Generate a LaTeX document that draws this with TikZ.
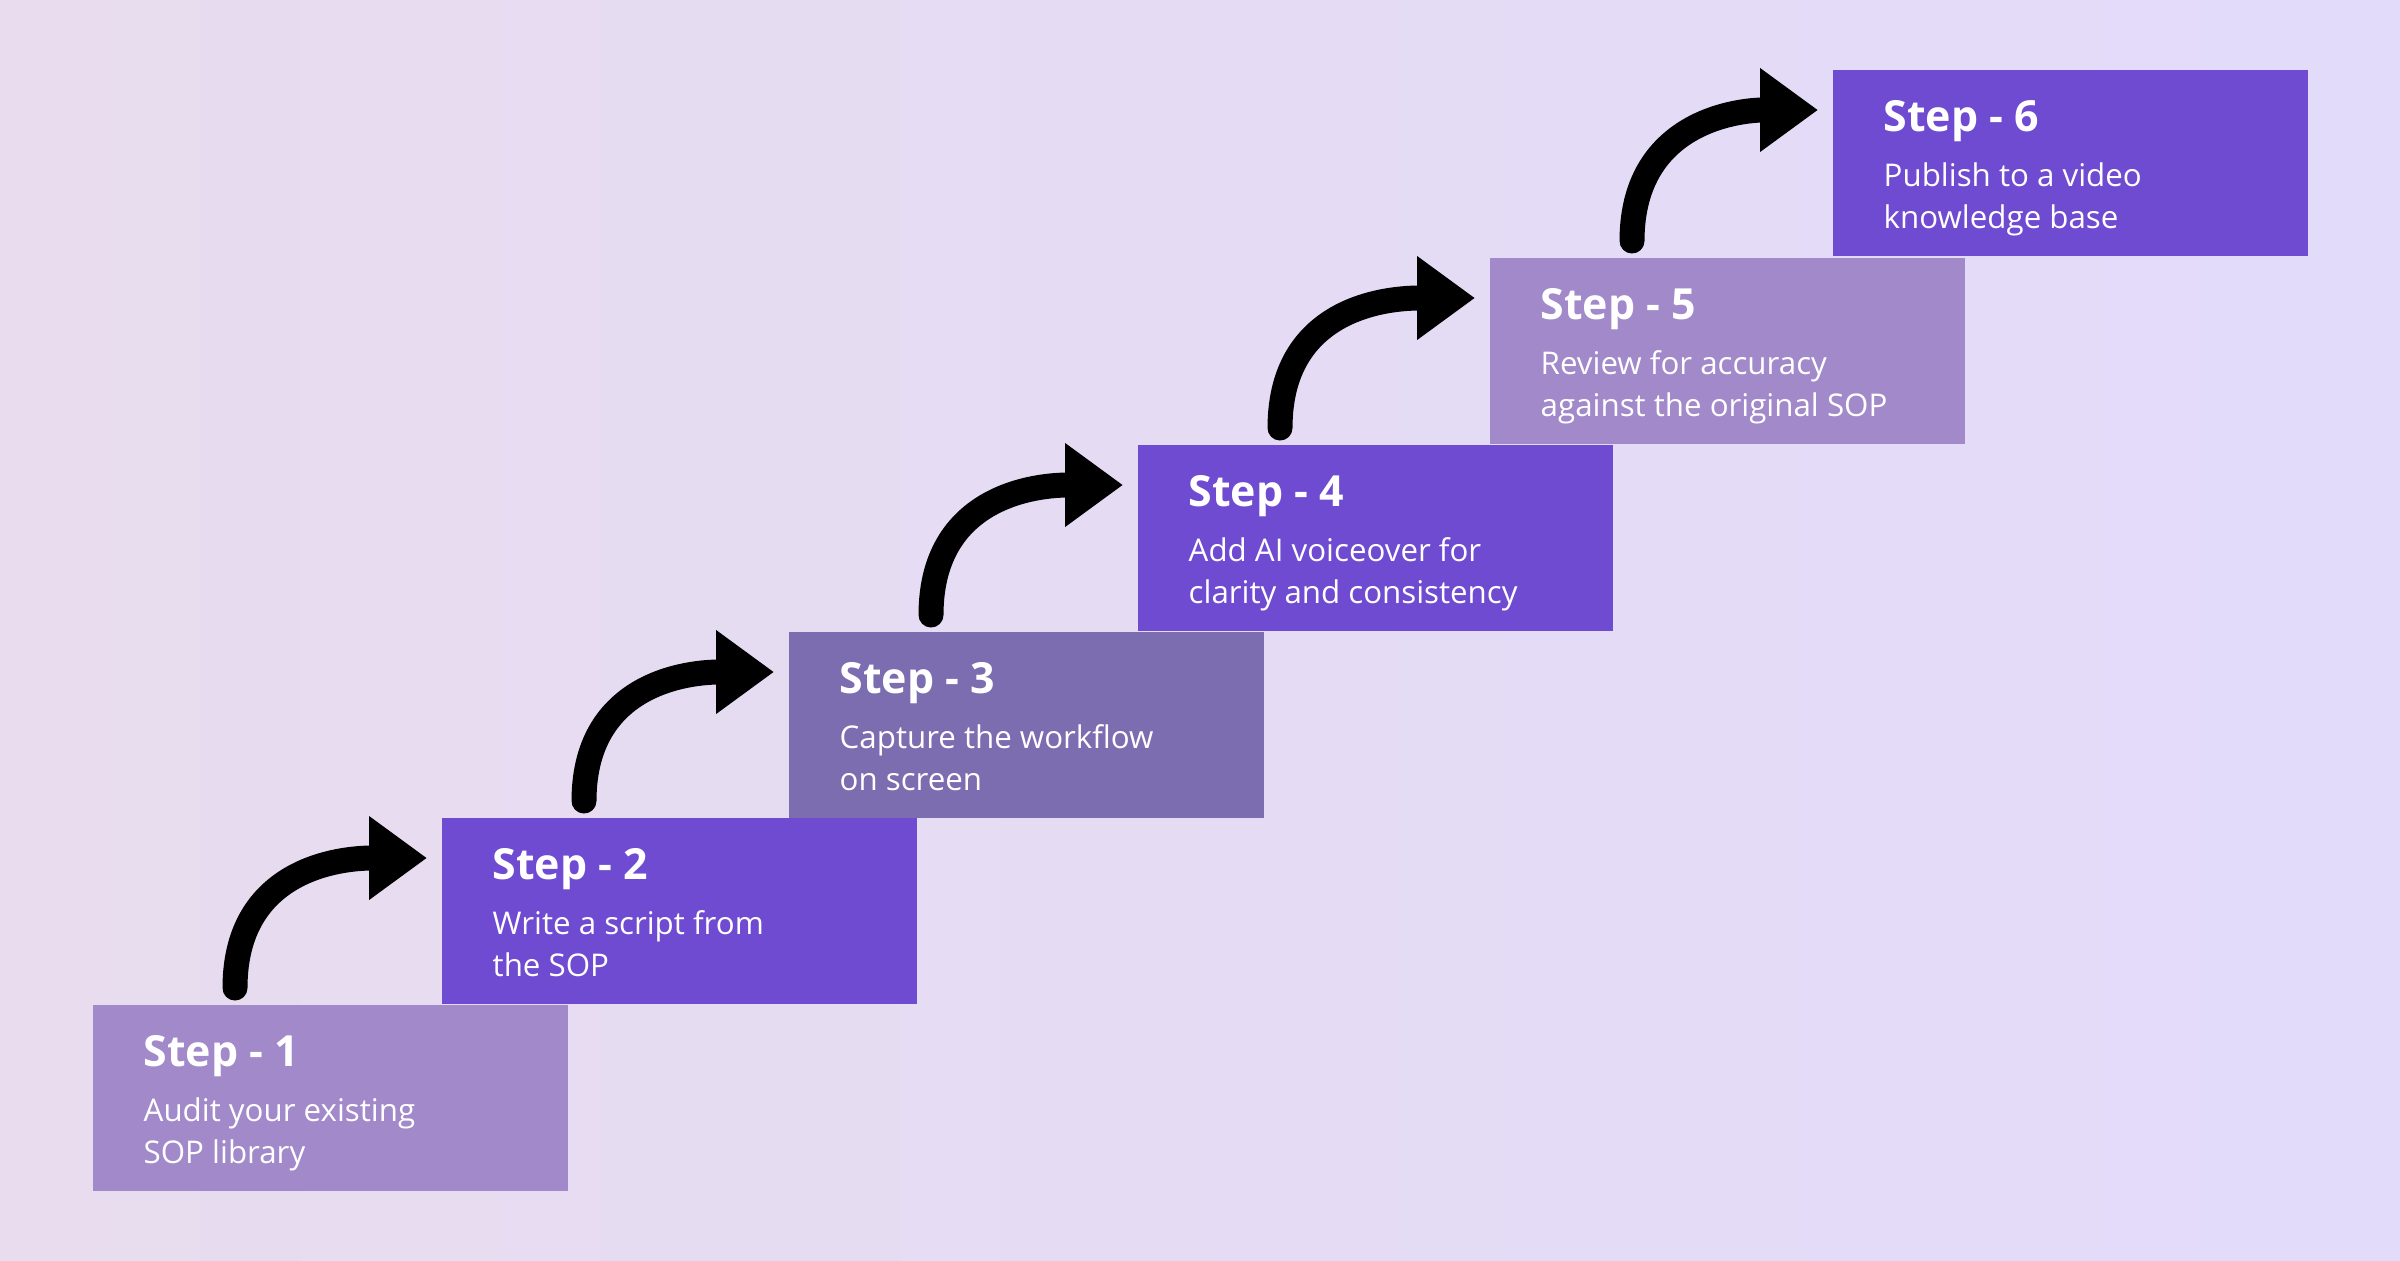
\documentclass[tikz,border=0pt]{standalone}
\usepackage{fontspec}
\setmainfont{Open Sans}
\usepackage{tikz}
\usetikzlibrary{calc,positioning,arrows.meta}
\definecolor{bgleft}{HTML}{E8DCEE}
\definecolor{bgright}{HTML}{E2DBFA}
\definecolor{stepLight}{HTML}{A189CA}
\definecolor{stepDark}{HTML}{6F4BD1}
\definecolor{stepMid}{HTML}{7C6CB0}
\tikzset{stepbox/.style={rectangle,minimum width=4.75cm,minimum height=1.86cm,inner sep=0pt,anchor=north west},
ttl/.style={anchor=base west,inner sep=0pt,text=white,font=\fontsize{12.2pt}{14pt}\selectfont\bfseries},
dsc/.style={anchor=base west,inner sep=0pt,text=white,align=left,font=\fontsize{8.9pt}{11.95pt}\selectfont}}

\begin{document}
\begin{tikzpicture}[up/.style={line width=2.5mm,line cap=round,-{Triangle[length=5.8mm,width=8mm]}}]
		\shade[left color=bgleft,right color=bgright] (0,0) rectangle (24,12.6);
		\useasboundingbox (0,0) rectangle (24,12.6);

		\node[stepbox,fill=stepLight] (s1) at (0.92,2.56) {};
		\node[stepbox,fill=stepDark] (s2) at (4.41,4.43) {};
		\node[stepbox,fill=stepMid] (s3) at (7.88,6.29) {};
		\node[stepbox,fill=stepDark] (s4) at (11.37,8.16) {};
		\node[stepbox,fill=stepLight] (s5) at (14.89,10.03) {};
		\node[stepbox,fill=stepDark] (s6) at (18.32,11.91) {};

		\node[ttl] (t1) at ([shift={(0.51,-0.62)}]s1.north west) {Step - 1};
		\node[dsc] (d1) at ([shift={(0.51,-1.59)}]s1.north west) {Audit your existing\\SOP library};
		\node[ttl] (t2) at ([shift={(0.51,-0.62)}]s2.north west) {Step - 2};
		\node[dsc] (d2) at ([shift={(0.51,-1.59)}]s2.north west) {Write a script from\\the SOP};
		\node[ttl] (t3) at ([shift={(0.51,-0.62)}]s3.north west) {Step - 3};
		\node[dsc] (d3) at ([shift={(0.51,-1.59)}]s3.north west) {Capture the workflow\\on screen};
		\node[ttl] (t4) at ([shift={(0.51,-0.62)}]s4.north west) {Step - 4};
		\node[dsc] (d4) at ([shift={(0.51,-1.59)}]s4.north west) {Add AI voiceover for\\clarity and consistency};
		\node[ttl] (t5) at ([shift={(0.51,-0.62)}]s5.north west) {Step - 5};
		\node[dsc] (d5) at ([shift={(0.51,-1.59)}]s5.north west) {Review for accuracy\\against the original SOP};
		\node[ttl] (t6) at ([shift={(0.51,-0.62)}]s6.north west) {Step - 6};
		\node[dsc] (d6) at ([shift={(0.51,-1.59)}]s6.north west) {Publish to a video\\knowledge base};

		\draw[up] ([shift={(1.43,0.16)}]s1.north west) to[out=90,in=180,out looseness=1.4,in looseness=0.8] ([shift={(-0.14,-0.41)}]s2.north west);
		\draw[up] ([shift={(1.43,0.16)}]s2.north west) to[out=90,in=180,out looseness=1.4,in looseness=0.8] ([shift={(-0.14,-0.41)}]s3.north west);
		\draw[up] ([shift={(1.43,0.16)}]s3.north west) to[out=90,in=180,out looseness=1.4,in looseness=0.8] ([shift={(-0.14,-0.41)}]s4.north west);
		\draw[up] ([shift={(1.43,0.16)}]s4.north west) to[out=90,in=180,out looseness=1.4,in looseness=0.8] ([shift={(-0.14,-0.41)}]s5.north west);
		\draw[up] ([shift={(1.43,0.16)}]s5.north west) to[out=90,in=180,out looseness=1.4,in looseness=0.8] ([shift={(-0.14,-0.41)}]s6.north west);
	\end{tikzpicture}
\end{document}
